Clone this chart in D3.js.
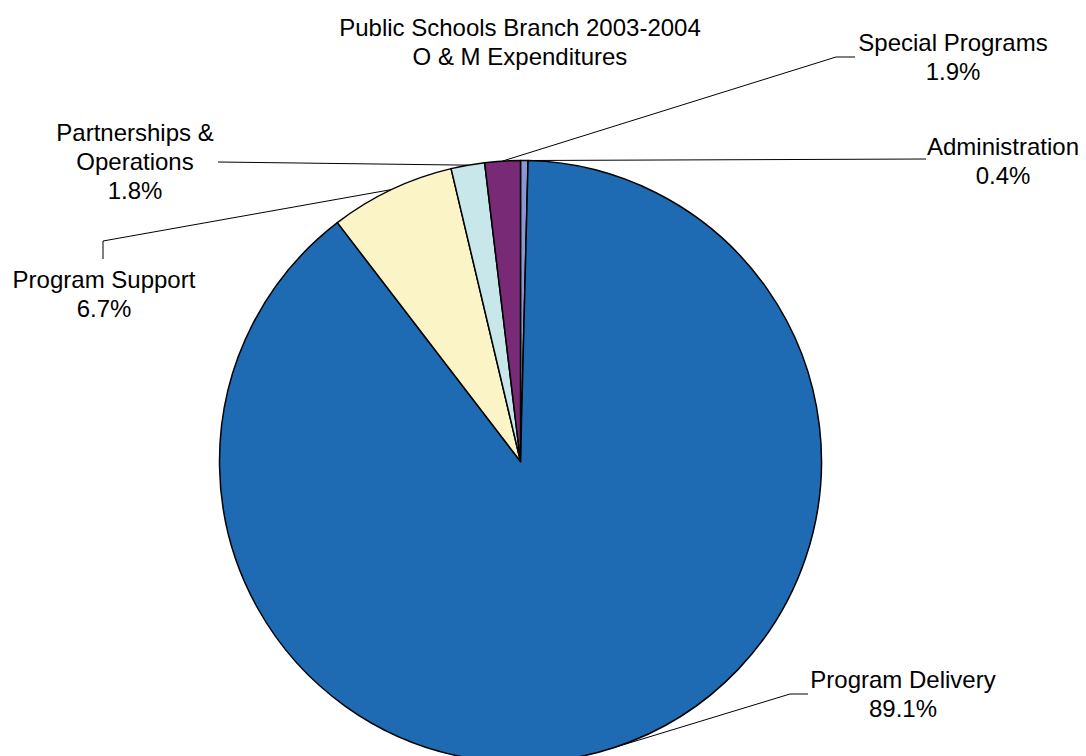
<!DOCTYPE html>
<html>
<head>
<meta charset="utf-8">
<script src="https://cdn.jsdelivr.net/npm/d3@7"></script>
<style>
  html, body { margin: 0; padding: 0; background: #fff; }
  svg { display: block; }
</style>
</head>
<body>
<svg id="chart" width="1086" height="756"></svg>
<script>
// ---- data ----
const categories = ["Administration", "Program Delivery", "Program Support", "Partnerships & Operations", "Special Programs"];
const values = [0.4, 89.1, 6.7, 1.8, 1.9];
const valueLabels = ["0.4%", "89.1%", "6.7%", "1.8%", "1.9%"];
const labelLines = [["Administration"], ["Program Delivery"], ["Program Support"], ["Partnerships &", "Operations"], ["Special Programs"]];
const colors = ["#8A97D1", "#1E6BB4", "#FBF4C6", "#C8E7EA", "#782A77"];
const titleLines = ["Public Schools Branch 2003-2004", "O & M Expenditures"];

// ---- layout (positions, not data) ----
const W = 1086, H = 756;
const cx = 520.5, cy = 461.5, R = 301;
const fontSize = 24, lineH = 29;
// label anchor (center x, first baseline y) and leader elbow points
const labelLayout = [
  { x: 1003, y: 155, pts: [[926, 159]] },
  { x: 903, y: 688, pts: [[790, 694], [808, 694]] },
  { x: 104, y: 288, pts: [[103, 241], [103, 259]] },
  { x: 135, y: 141, pts: [[218, 162]] },
  { x: 953, y: 51, pts: [[836, 57], [855, 57]] }
];

const svg = d3.select("#chart");
const font = "'Liberation Sans', Arial, Helvetica, sans-serif";

// title
svg.append("text")
  .attr("x", 520).attr("y", 36)
  .attr("text-anchor", "middle")
  .attr("font-family", font).attr("font-size", fontSize).attr("fill", "#000")
  .selectAll("tspan").data(titleLines).join("tspan")
  .attr("x", 520).attr("dy", (d, i) => i === 0 ? 0 : lineH)
  .text(d => d);

const data = categories.map((c, i) => ({ name: c, value: values[i], i }));
const pie = d3.pie().value(d => d.value).sort(null).startAngle(0).endAngle(2 * Math.PI);
const arcs = pie(data);
const arc = d3.arc().innerRadius(0).outerRadius(R);

const g = svg.append("g").attr("transform", `translate(${cx},${cy})`);
g.selectAll("path.slice").data(arcs).join("path")
  .attr("class", "slice")
  .attr("d", arc)
  .attr("fill", d => colors[d.data.i])
  .attr("stroke", "#000")
  .attr("stroke-width", 1.5)
  .attr("stroke-linejoin", "round");

// leader lines
const line = d3.line();
arcs.forEach(a => {
  const mid = (a.startAngle + a.endAngle) / 2;
  const sx = cx + R * Math.sin(mid);
  const sy = cy - R * Math.cos(mid);
  const L = labelLayout[a.data.i];
  const pts = [[sx, sy]].concat(L.pts);
  svg.append("path")
    .attr("d", line(pts))
    .attr("fill", "none")
    .attr("stroke", "#000")
    .attr("stroke-width", 1);
});

// labels
arcs.forEach(a => {
  const i = a.data.i;
  const L = labelLayout[i];
  const lines = labelLines[i].concat([valueLabels[i]]);
  const t = svg.append("text")
    .attr("x", L.x).attr("y", L.y)
    .attr("text-anchor", "middle")
    .attr("font-family", font).attr("font-size", fontSize).attr("fill", "#000");
  t.selectAll("tspan").data(lines).join("tspan")
    .attr("x", L.x).attr("dy", (d, k) => k === 0 ? 0 : lineH)
    .text(d => d);
});
</script>
</body>
</html>
